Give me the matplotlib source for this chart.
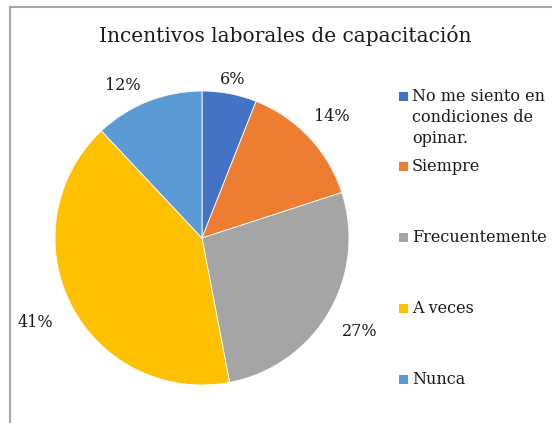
import numpy as np
import matplotlib.pyplot as plt
from matplotlib.patches import Rectangle
from matplotlib.lines import Line2D

categories = ["No me siento en\ncondiciones de\nopinar.", "Siempre", "Frecuentemente", "A veces", "Nunca"]
values = [6, 14, 27, 41, 12]
colors = ["#4472C4", "#ED7D31", "#A5A5A5", "#FFC000", "#5B9BD5"]

plt.rcParams['font.family'] = ['DejaVu Serif']
W, H = 552, 423
fig = plt.figure(figsize=(W / 100, H / 100), dpi=100)

# chart border (clipped by the image on right/bottom)
fig.add_artist(Line2D([10 / W, 1], [1 - 7 / H, 1 - 7 / H], color="#A6A6A6", lw=1.5))
fig.add_artist(Line2D([10 / W, 10 / W], [1 - 7 / H, 0], color="#A6A6A6", lw=1.5))

cx, cy, r = 202, 238, 147
ax = fig.add_axes([(cx - r) / W, 1 - (cy + r) / H, 2 * r / W, 2 * r / H])
wedges, texts, autotexts = ax.pie(values, colors=colors, startangle=90, counterclock=False,
                                  autopct="%d%%", pctdistance=1.19,
                                  wedgeprops=dict(edgecolor="white", linewidth=0.6),
                                  textprops=dict(fontsize=11.5, color="#1a1a1a"))
# nudge labels outward/inward like the original's "best fit" placement
label_dist = [1.1, 1.21, 1.25, 1.27, 1.17]
label_shift = [0, 0, 0, 0, 6]  # degrees
for w, t, d, s in zip(wedges, autotexts, label_dist, label_shift):
    ang = np.deg2rad((w.theta1 + w.theta2) / 2 + s)
    t.set_position((d * np.cos(ang), d * np.sin(ang)))
ax.set_xlim(-1, 1)
ax.set_ylim(-1, 1)
ax.set_aspect("equal")

fig.text(285 / W, 1 - 35 / H, "Incentivos laborales de capacitación", ha="center", va="center",
         fontsize=14.5, color="#1a1a1a")

legend_y = [88, 158, 229, 300, 371]
for lab, col, y in zip(categories, colors, legend_y):
    fig.add_artist(Rectangle((399 / W, 1 - (y + 13) / H), 9 / W, 9 / H, facecolor=col, edgecolor="none"))
    fig.text(412 / W, 1 - y / H, lab, ha="left", va="top", fontsize=11.5, color="#1a1a1a",
             linespacing=1.3)

fig.savefig("out.png", dpi=100)
